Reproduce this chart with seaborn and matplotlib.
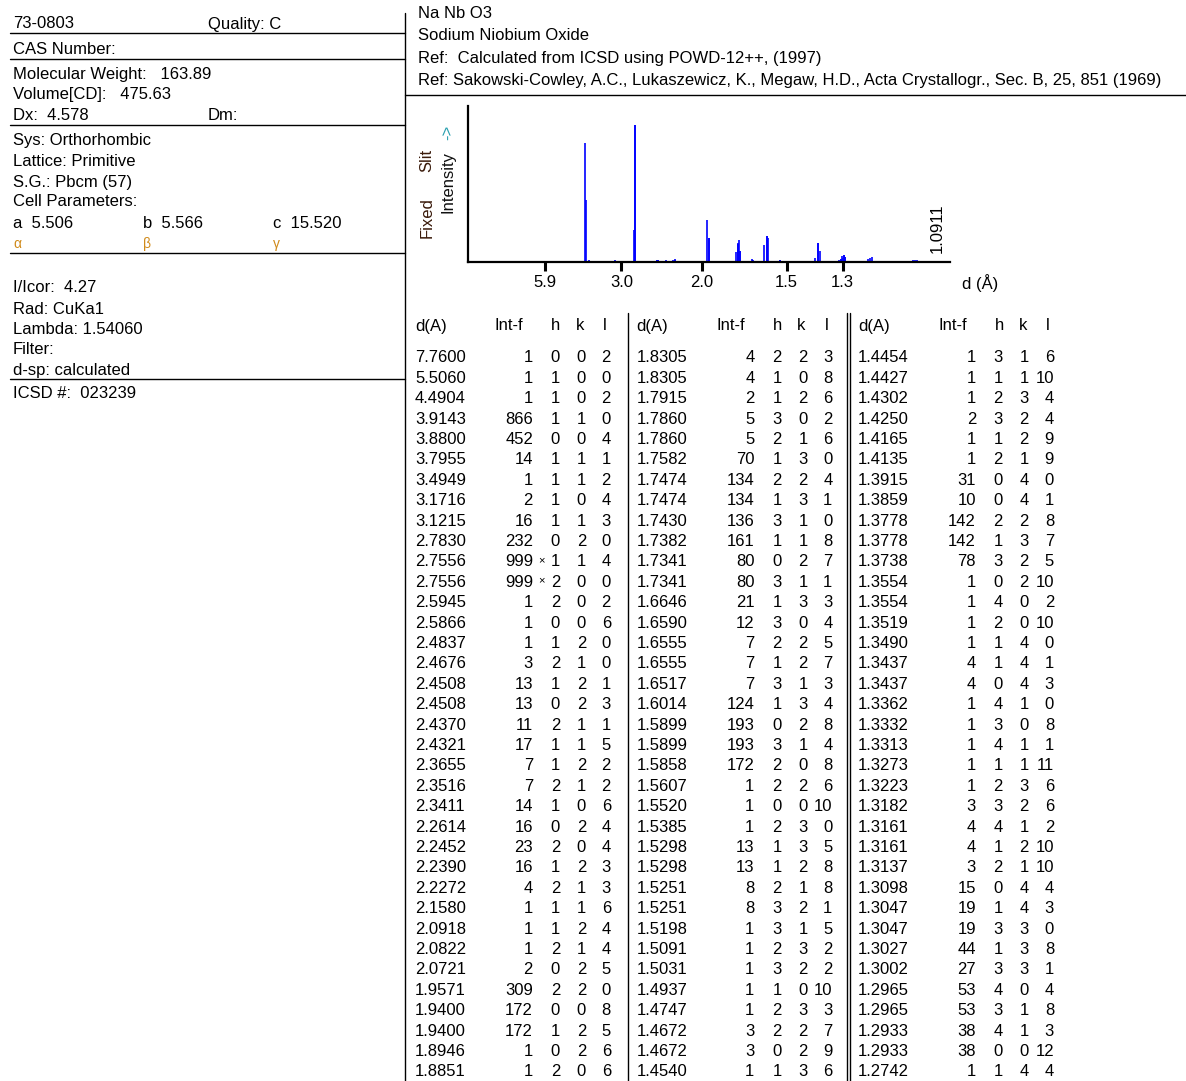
import numpy as np
import pandas as pd
import matplotlib
matplotlib.use("Agg")
import matplotlib.pyplot as plt
import seaborn as sns

# ---------------------------------------------------------------------------
# Card data
# ---------------------------------------------------------------------------
card_id = "73-0803"
quality = "Quality: C"
formula = "Na Nb O3"
compound = "Sodium Niobium Oxide"
ref_lines = ["Ref:  Calculated from ICSD using POWD-12++, (1997)",
             "Ref: Sakowski-Cowley, A.C., Lukaszewicz, K., Megaw, H.D., Acta Crystallogr., Sec. B, 25, 851 (1969)"]
wavelength = 1.54060

# printed peak list: d(A), Int-f, h, k, l
d_spacing = [7.7600, 5.5060, 4.4904, 3.9143, 3.8800, 3.7955, 3.4949, 3.1716, 3.1215,
             2.7830, 2.7556, 2.7556, 2.5945, 2.5866, 2.4837, 2.4676, 2.4508, 2.4508,
             2.4370, 2.4321, 2.3655, 2.3516, 2.3411, 2.2614, 2.2452, 2.2390, 2.2272,
             2.1580, 2.0918, 2.0822, 2.0721, 1.9571, 1.9400, 1.9400, 1.8946, 1.8851,
             1.8305, 1.8305, 1.7915, 1.7860, 1.7860, 1.7582, 1.7474, 1.7474, 1.7430,
             1.7382, 1.7341, 1.7341, 1.6646, 1.6590, 1.6555, 1.6555, 1.6517, 1.6014,
             1.5899, 1.5899, 1.5858, 1.5607, 1.5520, 1.5385, 1.5298, 1.5298, 1.5251,
             1.5251, 1.5198, 1.5091, 1.5031, 1.4937, 1.4747, 1.4672, 1.4672, 1.4540,
             1.4454, 1.4427, 1.4302, 1.4250, 1.4165, 1.4135, 1.3915, 1.3859, 1.3778,
             1.3778, 1.3738, 1.3554, 1.3554, 1.3519, 1.3490, 1.3437, 1.3437, 1.3362,
             1.3332, 1.3313, 1.3273, 1.3223, 1.3182, 1.3161, 1.3161, 1.3137, 1.3098,
             1.3047, 1.3047, 1.3027, 1.3002, 1.2965, 1.2965, 1.2933, 1.2933, 1.2742]
intensity = [1, 1, 1, 866, 452, 14, 1, 2, 16,
             232, 999, 999, 1, 1, 1, 3, 13, 13,
             11, 17, 7, 7, 14, 16, 23, 16, 4,
             1, 1, 1, 2, 309, 172, 172, 1, 1,
             4, 4, 2, 5, 5, 70, 134, 134, 136,
             161, 80, 80, 21, 12, 7, 7, 7, 124,
             193, 193, 172, 1, 1, 1, 13, 13, 8,
             8, 1, 1, 1, 1, 1, 3, 3, 1,
             1, 1, 1, 2, 1, 1, 31, 10, 142,
             142, 78, 1, 1, 1, 1, 4, 4, 1,
             1, 1, 1, 1, 3, 4, 4, 3, 15,
             19, 19, 44, 27, 53, 53, 38, 38, 1]
h_idx = [0, 1, 1, 1, 0, 1, 1, 1, 1, 0, 1, 2, 2, 0, 1, 2, 1, 0,
         2, 1, 1, 2, 1, 0, 2, 1, 2, 1, 1, 2, 0, 2, 0, 1, 0, 2,
         2, 1, 1, 3, 2, 1, 2, 1, 3, 1, 0, 3, 1, 3, 2, 1, 3, 1,
         0, 3, 2, 2, 0, 2, 1, 1, 2, 3, 3, 2, 3, 1, 2, 2, 0, 1,
         3, 1, 2, 3, 1, 2, 0, 0, 2, 1, 3, 0, 4, 2, 1, 1, 0, 4,
         3, 4, 1, 2, 3, 4, 1, 2, 0, 1, 3, 1, 3, 4, 3, 4, 0, 1]
k_idx = [0, 0, 0, 1, 0, 1, 1, 0, 1, 2, 1, 0, 0, 0, 2, 1, 2, 2,
         1, 1, 2, 1, 0, 2, 0, 2, 1, 1, 2, 1, 2, 2, 0, 2, 2, 0,
         2, 0, 2, 0, 1, 3, 2, 3, 1, 1, 2, 1, 3, 0, 2, 2, 1, 3,
         2, 1, 0, 2, 0, 3, 3, 2, 1, 2, 1, 3, 2, 0, 3, 2, 2, 3,
         1, 1, 3, 2, 2, 1, 4, 4, 2, 3, 2, 2, 0, 0, 4, 4, 4, 1,
         0, 1, 1, 3, 2, 1, 2, 1, 4, 4, 3, 3, 3, 0, 1, 1, 0, 4]
l_idx = [2, 0, 2, 0, 4, 1, 2, 4, 3, 0, 4, 0, 2, 6, 0, 0, 1, 3,
         1, 5, 2, 2, 6, 4, 4, 3, 3, 6, 4, 4, 5, 0, 8, 5, 6, 6,
         3, 8, 6, 2, 6, 0, 4, 1, 0, 8, 7, 1, 3, 4, 5, 7, 3, 4,
         8, 4, 8, 6, 10, 0, 5, 8, 8, 1, 5, 2, 2, 10, 3, 7, 9, 6,
         6, 10, 4, 4, 9, 9, 0, 1, 8, 7, 5, 10, 2, 10, 0, 1, 3, 0,
         8, 1, 11, 6, 6, 2, 10, 10, 4, 3, 0, 8, 1, 4, 8, 3, 12, 4]
starred_rows = [10, 11]

# reflections past the printed page
extra_d = [1.2362, 1.2293, 1.2254, 1.2202, 1.1741, 1.1707, 1.1268, 1.1226, 1.1185, 1.0911]
extra_int = [10, 25, 30, 40, 8, 8, 15, 18, 15, 1]

tick_d = [5.9, 3.0, 2.0, 1.5, 1.3]
d_min_label = "1.0911"

left_info = [
    ("Molecular Weight:   163.89", 74),
    ("Volume[CD]:   475.63", 95),
    ("Dx:  4.578", 115),
    ("Sys: Orthorhombic", 141),
    ("Lattice: Primitive", 162),
    ("S.G.: Pbcm (57)", 182),
    ("Cell Parameters:", 202),
    ("I/Icor:  4.27", 288),
    ("Rad: CuKa1", 309),
    ("Lambda: 1.54060", 329),
    ("Filter:", 350),
    ("d-sp: calculated", 370),
    ("ICSD #:  023239", 393),
]
cell_params = ["a  5.506", "b  5.566", "c  15.520"]
cell_angles = ["α", "β", "γ"]


def two_theta(d):
    return 2 * np.degrees(np.arcsin(wavelength / (2 * np.asarray(d))))


peaks = pd.DataFrame({"d": d_spacing + extra_d, "I": intensity + extra_int})
peaks["tt"] = two_theta(peaks["d"])

# ---------------------------------------------------------------------------
# Figure
# ---------------------------------------------------------------------------
sns.set_style("white")
plt.rcParams['font.family'] = ['Liberation Sans', 'DejaVu Sans']
plt.rcParams['text.color'] = 'black'
plt.rcParams['xtick.color'] = 'black'
plt.rcParams['xtick.labelcolor'] = 'black'

W, H = 1186, 1081
fig = plt.figure(figsize=(W / 100, H / 100), dpi=100)
fig.patch.set_facecolor("white")

bg = fig.add_axes([0, 0, 1, 1], zorder=0)
bg.set_xlim(0, W)
bg.set_ylim(H, 0)
bg.axis("off")

fs = 12
lw = 1.0

# frame lines
bg.plot([405, 405], [13, H], color="black", lw=lw)
for y in [33, 59, 125, 253, 379]:
    bg.plot([10, 405], [y, y], color="black", lw=lw)
bg.plot([405, W], [95, 95], color="black", lw=lw)
bg.plot([628, 628], [313, H], color="black", lw=lw)
bg.plot([847, 847], [313, H], color="black", lw=lw)
bg.plot([849.5, 849.5], [313, H], color="black", lw=lw)

# left panel
bg.text(13, 24, card_id, fontsize=fs, va="center")
bg.text(208, 24, quality, fontsize=fs, va="center")
bg.text(13, 50, "CAS Number:", fontsize=fs, va="center")
for txt, y in left_info:
    bg.text(13, y, txt, fontsize=fs, va="center")
bg.text(208, 115, "Dm:", fontsize=fs, va="center")
for i, (p, a) in enumerate(zip(cell_params, cell_angles)):
    bg.text(13 + 130 * i, 223, p, fontsize=fs, va="center")
    bg.text(13 + 130 * i, 244, a, fontsize=10, va="center", color="#d08a1a")

# right header
for i, txt in enumerate([formula, compound] + ref_lines):
    bg.text(418, 14 + 22 * i, txt, fontsize=fs, va="center")

# peak table
n_rows = 36
for c in range(3):
    x0 = 406 + 221.5 * c
    bg.text(x0 + 9, 326, "d(A)", fontsize=fs, va="center")
    bg.text(x0 + 89, 326, "Int-f", fontsize=fs, va="center")
    for dx, lab in [(150, "h"), (174, "k"), (199, "l")]:
        bg.text(x0 + dx, 326, lab, fontsize=fs, va="center", ha="center")
    for r in range(n_rows):
        i = c * n_rows + r
        y = 358 + 20.4 * r
        bg.text(x0 + 9, y, f"{d_spacing[i]:.4f}", fontsize=fs, va="center")
        bg.text(x0 + 127, y, str(intensity[i]), fontsize=fs, va="center", ha="right")
        if i in starred_rows:
            bg.text(x0 + 132, y - 2, "×", fontsize=8, va="center")
        bg.text(x0 + 154, y, str(h_idx[i]), fontsize=fs, va="center", ha="right")
        bg.text(x0 + 180, y, str(k_idx[i]), fontsize=fs, va="center", ha="right")
        bg.text(x0 + 205, y, str(l_idx[i]), fontsize=fs, va="center", ha="right")

# stick pattern
ax_l, ax_r, ax_b, ax_t = 468, 950, 262, 106
ax = fig.add_axes([ax_l / W, 1 - ax_b / H, (ax_r - ax_l) / W, (ax_b - ax_t) / H], zorder=2)
ax.patch.set_alpha(0)
ax.vlines(peaks["tt"], 0, peaks["I"], colors="#0000ff", lw=1.2)
ax.set_xlim(0, 93.5)
ax.set_ylim(0, 1138)
sns.despine(ax=ax)
for s in ["left", "bottom"]:
    ax.spines[s].set_linewidth(1.6)
    ax.spines[s].set_color("black")
ax.set_yticks([])
ax.set_xticks(two_theta(tick_d))
ax.set_xticklabels([f"{t:.1f}" for t in tick_d])
ax.tick_params(axis="x", direction="out", length=6.5, width=2.2, labelsize=fs, pad=3,
               bottom=True, colors="black")
ax.grid(False)

bg.text(937, 228, d_min_label, fontsize=fs, rotation=90, va="center", ha="center")
bg.text(962, 283, "d (Å)", fontsize=fs, va="center")
bg.text(427, 218, "Fixed", fontsize=fs, rotation=90, va="center", ha="center", color="#3a1a0a")
bg.text(427, 160, "Slit", fontsize=fs, rotation=90, va="center", ha="center", color="#3a1a0a")
bg.text(448, 182, "Intensity", fontsize=fs, rotation=90, va="center", ha="center", color="#101010")
bg.text(448, 132, "->", fontsize=fs, rotation=90, va="center", ha="center", color="#2aa0b0")

fig.savefig("out.png", dpi=100)
